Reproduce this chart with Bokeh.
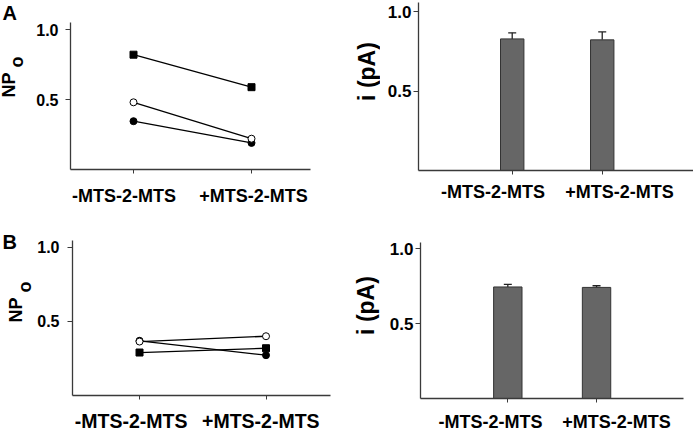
import math
from bokeh.plotting import figure
from bokeh.layouts import row, column
from bokeh.models import (FixedTicker, LinearAxis, ColumnDataSource, Whisker, TeeHead,
                          Range1d, NumeralTickFormatter, CustomLabelingPolicy)
from bokeh.core.properties import value
from bokeh.embed import file_html
from bokeh.resources import INLINE

# ---------------- data ----------------
categories = ["-MTS-2-MTS", "+MTS-2-MTS"]
cat_x = [1, 2]
y_ticks = [0.5, 1.0]

# Panel A, NPo (three patches)
a_square = [0.82, 0.588]
a_open = [0.48, 0.22]
a_filled = [0.345, 0.19]
# Panel A, unitary current i (pA)
a_i_mean = [0.828, 0.822]
a_i_err = [0.038, 0.05]

# Panel B, NPo
b_square = [0.29, 0.319]
b_open = [0.364, 0.40]
b_filled = [0.369, 0.272]
# Panel B, i (pA)
b_i_mean = [0.745, 0.742]
b_i_err = [0.017, 0.011]

FONT = "Liberation Sans"
AXIS_COLOR = "#3a3a3a"


def make_fig(w, h, left, right, top, bottom, xr, yr):
    p = figure(width=w, height=h, output_backend="svg", toolbar_location=None, title=None,
               x_range=Range1d(*xr), y_range=Range1d(*yr),
               min_border_left=left, min_border_right=right,
               min_border_top=top, min_border_bottom=bottom)
    p.outline_line_color = None
    p.grid.visible = False
    p.background_fill_color = "white"
    p.border_fill_color = "white"
    return p


def text_fig(w, h):
    # plain text strip: one data unit = one pixel
    p = figure(width=w, height=h, output_backend="svg", toolbar_location=None, title=None,
               x_range=Range1d(0, w), y_range=Range1d(0, h),
               x_axis_type=None, y_axis_type=None,
               min_border_left=0, min_border_right=0, min_border_top=0, min_border_bottom=0)
    p.outline_line_color = None
    p.grid.visible = False
    p.background_fill_color = "white"
    p.border_fill_color = "white"
    return p


def put_text(p, x, y_from_top, text, size_px, rotated=False, align="left"):
    # (x, y_from_top) is where the text baseline should sit; the glyph anchor
    # is moved by 0.35 em against the text's down direction.
    h = p.height
    shift = 0.35 * size_px
    if rotated:
        ax, ay, ang = x - shift, h - y_from_top, math.pi / 2
    else:
        ax, ay, ang = x, h - y_from_top + shift, 0.0
    p.text(x=[ax], y=[ay], text=[text], angle=ang, text_font=value(FONT),
           text_font_style="bold", text_font_size=f"{size_px}px", text_color="black",
           text_align=align, text_baseline="alphabetic")


def style_axes(p, ytick_size, ystandoff):
    xa = p.xaxis[0]
    xa.ticker = FixedTicker(ticks=cat_x)
    xa.major_label_text_font_size = "1px"
    xa.major_label_standoff = 0
    # tick marks only; the category names come from the axis added below
    xa.major_label_policy = CustomLabelingPolicy(
        code="for (const i of indices) { indices.unset(i) }")
    xa.major_tick_in = 0
    xa.major_tick_out = 4
    xa.minor_tick_line_color = None
    xa.axis_line_color = AXIS_COLOR
    xa.axis_line_width = 1.3
    xa.major_tick_line_color = AXIS_COLOR

    ya = p.yaxis[0]
    ya.ticker = FixedTicker(ticks=y_ticks)
    ya.formatter = NumeralTickFormatter(format="0.0")
    ya.major_label_text_font = FONT
    ya.major_label_text_font_style = "bold"
    ya.major_label_text_font_size = ytick_size
    ya.major_label_text_color = "black"
    ya.major_label_standoff = ystandoff
    ya.major_tick_in = 0
    ya.major_tick_out = 5
    ya.minor_tick_line_color = None
    ya.axis_line_color = AXIS_COLOR
    ya.axis_line_width = 1.3
    ya.major_tick_line_color = AXIS_COLOR


def add_category_axis(p, offsets, standoff, size="18px"):
    # category names set slightly apart from their ticks, as in the original
    pos = [c + o for c, o in zip(cat_x, offsets)]
    ax = LinearAxis(ticker=FixedTicker(ticks=pos),
                    major_label_overrides={x: c for x, c in zip(pos, categories)},
                    axis_line_color=None, major_tick_line_color=None,
                    minor_tick_line_color=None, major_tick_in=0, major_tick_out=0,
                    major_label_standoff=standoff, major_label_text_font=FONT,
                    major_label_text_font_style="bold", major_label_text_font_size=size,
                    major_label_text_color="black")
    p.add_layout(ax, "below")


def draw_pairs(p, sq, op, fi):
    for ys in (sq, op, fi):
        p.line(cat_x, ys, line_color="black", line_width=1.3)
    p.scatter(cat_x, sq, marker="square", size=7, fill_color="black", line_color="black")
    p.scatter(cat_x, fi, marker="circle", size=7, fill_color="black", line_color="black")
    p.scatter(cat_x, op, marker="circle", size=7, fill_color="white", line_color="black", line_width=1)


def draw_bars(p, means, errs, width):
    p.vbar(x=cat_x, top=means, bottom=0, width=width, fill_color="#666666",
           line_color="#333333", line_width=1)
    src = ColumnDataSource(dict(x=cat_x, lower=means,
                                upper=[m + e for m, e in zip(means, errs)]))
    p.add_layout(Whisker(source=src, base="x", upper="upper", lower="lower",
                         line_color="#222222", line_width=1.3,
                         upper_head=TeeHead(size=8, line_color="#222222", line_width=1.3),
                         lower_head=None))


# ---------------- top row ----------------
ta = text_fig(32, 212)
put_text(ta, 2, 19, "A", 20)
put_text(ta, 15, 97, "NP", 18, rotated=True)
put_text(ta, 23, 67, "o", 18, rotated=True)

tl = make_fig(318, 212, 38, 40, 22, 43, (0.466, 2.5), (0, 1.05))
style_axes(tl, "16px", 7)
add_category_axis(tl, [-0.08, 0.017], 8)
draw_pairs(tl, a_square, a_open, a_filled)

tc = text_fig(30, 212)
put_text(tc, 25, 71, "i (pA)", 23, rotated=True, align="center")

tr = make_fig(313, 212, 38, 0, 2, 42, (-0.041, 3.014), (0, 1.057))
style_axes(tr, "17px", 2)
add_category_axis(tr, [-0.213, 0.192], 3)
draw_bars(tr, a_i_mean, a_i_err, 0.26)

# ---------------- bottom row ----------------
tb = text_fig(34, 222)
put_text(tb, 2, 36, "B", 20)
put_text(tb, 22, 110, "NP", 18, rotated=True)
put_text(tb, 31, 80, "o", 18, rotated=True)

bl = make_fig(316, 222, 35, 20, 28, 32, (0.47, 2.51), (0, 1.046))
style_axes(bl, "16px", 8)
add_category_axis(bl, [-0.066, -0.041], 6, "19.5px")
draw_pairs(bl, b_square, b_open, b_filled)

td = text_fig(30, 222)
put_text(td, 24, 93, "i (pA)", 23, rotated=True, align="center")

br = make_fig(313, 222, 40, 10, 30, 29, (0.016, 2.98), (0, 1.042))
style_axes(br, "17px", 2)
add_category_axis(br, [-0.195, 0.226], 5)
draw_bars(br, b_i_mean, b_i_err, 0.32)

# each figure is wrapped on its own so that the frames keep their own borders
layout = column(row(column(ta), column(tl), column(tc), column(tr)),
                row(column(tb), column(bl), column(td), column(br)))

open("out.html", "w").write(file_html(layout, INLINE))
